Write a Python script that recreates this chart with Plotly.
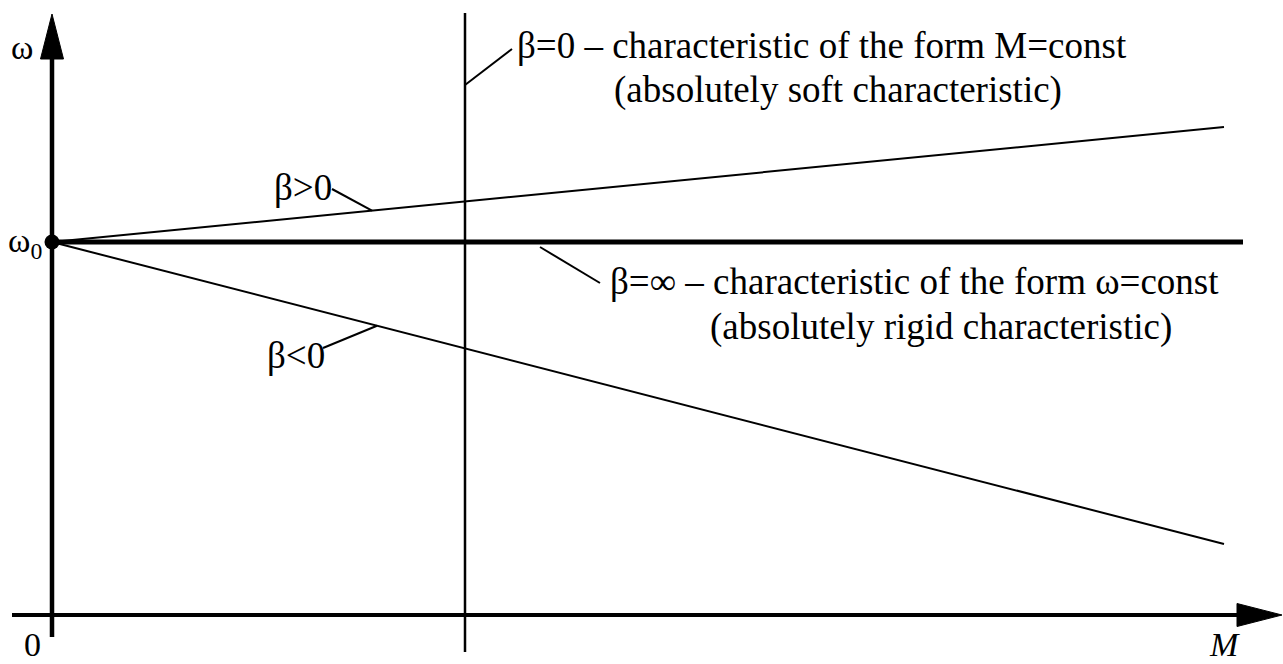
import plotly.graph_objects as go

# Mechanical characteristics omega(M) of a motor, arbitrary units
omega0 = 3.73              # idle speed, common starting point
M_end = 11.72              # torque at which the sloped characteristics end
omega_pos_end = 4.88       # beta > 0 characteristic at M_end
omega_neg_end = 0.71       # beta < 0 characteristic at M_end
M_rigid_end = 11.91        # end of the beta = infinity characteristic
M_soft = 4.13              # torque of the beta = 0 characteristic
soft_span = [-0.37, 6.02]  # vertical extent of the beta = 0 line

# axis extents
M_axis = [-0.40, 12.30]
omega_axis = [-0.22, 6.01]
arrow_len = 0.45
arrow_half = 0.115

labels_beta0 = ["β=0 – characteristic of the form M=const",
                "(absolutely soft characteristic)"]
labels_betainf = ["β=∞ – characteristic of the form ω=const",
                  "(absolutely rigid characteristic)"]

FONT = "Liberation Serif, Times New Roman, serif"
FS = 37
FS_AXIS = 34


def on_pos(m):
    return omega0 + (omega_pos_end - omega0) * m / M_end


def on_neg(m):
    return omega0 + (omega_neg_end - omega0) * m / M_end


fig = go.Figure()

line_thin = dict(color="black", width=2)

# sloped characteristics
fig.add_trace(go.Scatter(x=[0, M_end], y=[omega0, omega_pos_end], mode="lines", line=line_thin))
fig.add_trace(go.Scatter(x=[0, M_end], y=[omega0, omega_neg_end], mode="lines", line=line_thin))
# absolutely rigid characteristic
fig.add_trace(go.Scatter(x=[0, M_rigid_end], y=[omega0, omega0], mode="lines",
                         line=dict(color="black", width=5)))
# absolutely soft characteristic
fig.add_trace(go.Scatter(x=[M_soft, M_soft], y=soft_span, mode="lines",
                         line=dict(color="black", width=2.5)))

# axes
fig.add_trace(go.Scatter(x=[M_axis[0], M_axis[1] - arrow_len], y=[0, 0], mode="lines",
                         line=dict(color="black", width=4)))
fig.add_trace(go.Scatter(x=[0, 0], y=[omega_axis[0], omega_axis[1] - arrow_len], mode="lines",
                         line=dict(color="black", width=4.5)))

# arrowheads
fig.add_trace(go.Scatter(
    x=[M_axis[1] - arrow_len, M_axis[1], M_axis[1] - arrow_len, M_axis[1] - arrow_len],
    y=[arrow_half, 0, -arrow_half, arrow_half],
    mode="lines", fill="toself", fillcolor="black", line=dict(color="black", width=1)))
fig.add_trace(go.Scatter(
    x=[-arrow_half, 0, arrow_half, -arrow_half],
    y=[omega_axis[1] - arrow_len, omega_axis[1], omega_axis[1] - arrow_len, omega_axis[1] - arrow_len],
    mode="lines", fill="toself", fillcolor="black", line=dict(color="black", width=1)))

# idle point
fig.add_trace(go.Scatter(x=[0], y=[omega0], mode="markers",
                         marker=dict(color="black", size=15)))

# leader lines
leaders = [
    ([M_soft, 4.60], [5.30, 5.66]),
    ([2.80, 3.20], [4.26, on_pos(3.20)]),
    ([2.71, 3.25], [2.67, on_neg(3.25)]),
    ([4.88, 5.48], [omega0 - 0.05, 3.32]),
]
for lx, ly in leaders:
    fig.add_trace(go.Scatter(x=lx, y=ly, mode="lines", line=line_thin))


def text(x, y, s, xanchor="left", italic=False, size=FS):
    fig.add_annotation(x=x, y=y, text=s, showarrow=False, xanchor=xanchor, yanchor="middle",
                       font=dict(family=FONT, size=size, color="black",
                                 style="italic" if italic else "normal"))


text(4.63, 5.70, labels_beta0[0])
text(5.60, 5.25, labels_beta0[1])
text(5.56, 3.34, labels_betainf[0])
text(6.56, 2.88, labels_betainf[1])
text(2.20, 4.28, "β>0")
text(2.13, 2.60, "β<0")
text(-0.30, 5.68, "ω", xanchor="center", size=FS_AXIS)
text(-0.27, 3.72, "ω<sub>0</sub>", xanchor="center", size=FS_AXIS)
text(-0.20, -0.29, "0", xanchor="center", size=FS_AXIS)
text(11.72, -0.29, "M", xanchor="center", italic=True, size=FS_AXIS)

fig.update_layout(
    width=1283, height=664,
    margin=dict(l=0, r=0, t=0, b=0),
    paper_bgcolor="white", plot_bgcolor="white",
    showlegend=False,
    xaxis=dict(range=[-0.52, 12.31], visible=False, fixedrange=True),
    yaxis=dict(range=[-0.49, 6.15], visible=False, fixedrange=True),
)

fig.write_html("out.html")
